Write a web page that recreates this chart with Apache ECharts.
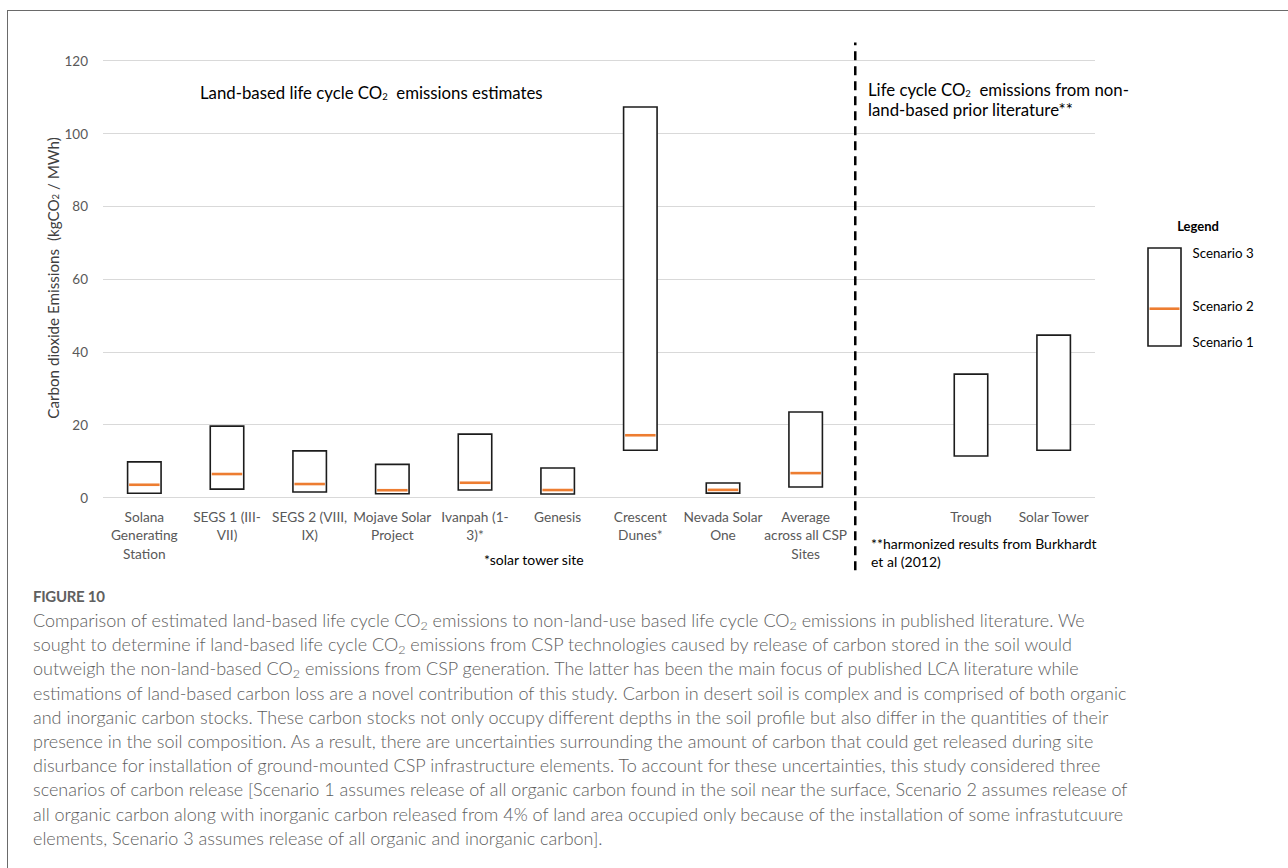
<!DOCTYPE html>
<html>
<head>
<meta charset="utf-8">
<title>Land-based vs non-land-based life cycle CO2 emissions of CSP sites</title>
<script src="https://cdn.jsdelivr.net/npm/echarts@6/dist/echarts.min.js"></script>
<style>
  html, body { margin: 0; padding: 0; background: #fff; }
  #page { position: relative; width: 1288px; height: 868px; overflow: hidden; background: #fff; }
  #frame { position: absolute; left: 7px; top: 10px; right: -10px; bottom: -10px;
           border-top: 1.5px solid #6a6a6a; border-left: 1.5px solid #6a6a6a; }
  #chart { position: absolute; left: 0; top: 0; width: 1288px; height: 868px; }
  #caption { position: absolute; left: 33px; top: 585px; width: 1250px;
             font-family: Lato, "Open Sans", sans-serif; color: #5e5e5e; }
  #caption .fig { font-size: 15px; font-weight: 700; letter-spacing: -0.3px; line-height: 23px; color: #606060; }
  #caption .body { font-size: 18px; font-weight: 300; line-height: 24.2px; white-space: nowrap; }
  #caption sub { font-size: 12.5px; vertical-align: -3px; line-height: 0; }
</style>
</head>
<body>
<div id="page">
  <div id="frame"></div>
  <div id="chart"></div>
  <div id="caption">
    <div class="fig">FIGURE 10</div>
    <div class="body">
      Comparison of estimated land-based life cycle CO<sub>2</sub> emissions to non-land-use based life cycle CO<sub>2</sub> emissions in published literature. We<br>
      sought to determine if land-based life cycle CO<sub>2</sub> emissions from CSP technologies caused by release of carbon stored in the soil would<br>
      outweigh the non-land-based CO<sub>2</sub> emissions from CSP generation. The latter has been the main focus of published LCA literature while<br>
      estimations of land-based carbon loss are a novel contribution of this study. Carbon in desert soil is complex and is comprised of both organic<br>
      and inorganic carbon stocks. These carbon stocks not only occupy different depths in the soil profile but also differ in the quantities of their<br>
      presence in the soil composition. As a result, there are uncertainties surrounding the amount of carbon that could get released during site<br>
      disurbance for installation of ground-mounted CSP infrastructure elements. To account for these uncertainties, this study considered three<br>
      scenarios of carbon release [Scenario 1 assumes release of all organic carbon found in the soil near the surface, Scenario 2 assumes release of<br>
      all organic carbon along with inorganic carbon released from 4% of land area occupied only because of the installation of some infrastutcuure<br>
      elements, Scenario 3 assumes release of all organic and inorganic carbon].
    </div>
  </div>
</div>
<script>
// Sites (land-based estimates), an empty spacer slot, then literature values
const categories = [
  'Solana\nGenerating\nStation',
  'SEGS 1 (III-\nVII)',
  'SEGS 2 (VIII,\nIX)',
  'Mojave Solar\nProject',
  'Ivanpah (1-\n3)*',
  'Genesis',
  'Crescent\nDunes*',
  'Nevada Solar\nOne',
  'Average\nacross all CSP\nSites',
  '',
  'Trough',
  'Solar Tower'
];

// kgCO2 / MWh for each release scenario ('-' = not applicable)
const scenario1 = [1.15, 2.3, 1.5, 1.05, 2.05, 0.95, 13.0, 1.2, 2.9, '-', 11.4, 13.0];
const scenario2 = [3.5, 6.45, 3.7, 2.0, 4.05, 2.05, 17.1, 2.1, 6.7, '-', '-', '-'];
const scenario3 = [9.8, 19.6, 12.8, 9.1, 17.4, 8.1, 107.3, 4.0, 23.5, '-', 33.9, 44.6];

// y axis ticks
const yTicks = { min: 0, max: 120, step: 20 };

// dashed separator between the two groups, in category-slot units, and its vertical span
const dividerAt = [8.6];
const dividerSpan = [-20, 125];

const FONT = 'Lato, "Open Sans", sans-serif';
const BOX_STROKE = '#1c1c1c';
const ORANGE = '#ED7D31';

const boxData = [];
categories.forEach((c, i) => {
  if (scenario3[i] !== '-') boxData.push([i, scenario1[i], scenario2[i], scenario3[i]]);
});

function renderBox(params, api) {
  const idx = api.value(0);
  const lo = api.coord([idx, api.value(1)]);
  const hi = api.coord([idx, api.value(3)]);
  const w = api.size([1, 0])[0] * 0.405;
  const children = [{
    type: 'rect',
    shape: { x: lo[0] - w / 2, y: hi[1], width: w, height: lo[1] - hi[1] },
    style: { fill: '#ffffff', stroke: BOX_STROKE, lineWidth: 1.6 }
  }];
  const mid = api.value(2);
  if (!isNaN(mid)) {
    const m = api.coord([idx, mid]);
    children.push({
      type: 'line',
      shape: { x1: lo[0] - w / 2 + 1.5, y1: m[1], x2: lo[0] + w / 2 - 1.5, y2: m[1] },
      style: { stroke: ORANGE, lineWidth: 2.6 }
    });
  }
  return { type: 'group', children };
}

function renderDivider(params, api) {
  const a = api.coord([api.value(0), api.value(1)]);
  const b = api.coord([api.value(0), api.value(2)]);
  return {
    type: 'line',
    shape: { x1: a[0], y1: a[1], x2: b[0], y2: b[1] },
    style: { stroke: '#000', lineWidth: 2.5, lineDash: [9, 6] }
  };
}

const sub = {
  a: { fontSize: 16.8, fontFamily: FONT, fill: '#000', lineHeight: 22, verticalAlign: 'bottom' },
  s: { fontSize: 9.5, fontFamily: FONT, fill: '#000', lineHeight: 12, verticalAlign: 'bottom' }
};

const chart = echarts.init(document.getElementById('chart'), null, { renderer: 'svg', width: 1288, height: 868 });

chart.setOption({
  animation: false,
  backgroundColor: 'transparent',
  textStyle: { fontFamily: FONT },
  grid: { left: 103, right: 193, top: 60.7, bottom: 370.5, containLabel: false },
  xAxis: [{
    type: 'category',
    data: categories,
    boundaryGap: true,
    axisLine: { show: false },
    axisTick: { show: false },
    axisLabel: { interval: 0, color: '#595959', fontSize: 13.7, lineHeight: 18.3, margin: 10, fontFamily: FONT }
  }, {
    type: 'value',
    min: -0.5,
    max: categories.length - 0.5,
    show: false
  }],
  yAxis: {
    type: 'value',
    min: yTicks.min,
    max: yTicks.max,
    interval: yTicks.step,
    axisLine: { show: false },
    axisTick: { show: false },
    axisLabel: { color: '#595959', fontSize: 13.5, margin: 15, fontFamily: FONT },
    splitLine: { lineStyle: { color: '#d9d9d9', width: 1 } }
  },
  series: [{
    type: 'custom',
    name: 'Scenarios',
    xAxisIndex: 0,
    renderItem: renderBox,
    data: boxData,
    encode: { x: 0, y: [1, 2, 3] },
    z: 3
  }, {
    type: 'custom',
    name: 'divider',
    xAxisIndex: 1,
    renderItem: renderDivider,
    data: dividerAt.map(v => [v, dividerSpan[0], dividerSpan[1]]),
    encode: { x: 0, y: [1, 2] },
    clip: false,
    silent: true,
    z: 4
  }],
  graphic: [
    // y axis title
    {
      type: 'text', x: 50, y: 278, rotation: Math.PI / 2,
      style: {
        text: '{t|Carbon dioxide Emissions  (kgCO}{u|2}{t| / MWh)}',
        align: 'center', verticalAlign: 'middle',
        rich: {
          t: { fontSize: 15.2, fontFamily: FONT, fill: '#404040', lineHeight: 20, verticalAlign: 'bottom' },
          u: { fontSize: 9.5, fontFamily: FONT, fill: '#404040', lineHeight: 11, verticalAlign: 'bottom' }
        }
      }
    },
    // group headings
    {
      type: 'text', x: 200, y: 90,
      style: { text: '{a|Land-based life cycle CO}{s|2}{a|  emissions estimates}', align: 'left', verticalAlign: 'middle', rich: sub }
    },
    {
      type: 'text', x: 868, y: 87,
      style: { text: '{a|Life cycle CO}{s|2}{a|  emissions from non-}', align: 'left', verticalAlign: 'middle', rich: sub }
    },
    {
      type: 'text', x: 868, y: 109.5,
      style: { text: 'land-based prior literature**', align: 'left', verticalAlign: 'middle', fontSize: 16.8, fontFamily: FONT, fill: '#000' }
    },
    // footnotes
    {
      type: 'text', x: 484, y: 559,
      style: { text: '*solar tower site', align: 'left', verticalAlign: 'middle', fontSize: 14, fontFamily: FONT, fill: '#000' }
    },
    {
      type: 'text', x: 871, y: 543.5,
      style: { text: '**harmonized results from Burkhardt', align: 'left', verticalAlign: 'middle', fontSize: 14, fontFamily: FONT, fill: '#000' }
    },
    {
      type: 'text', x: 871, y: 561.5,
      style: { text: 'et al (2012)', align: 'left', verticalAlign: 'middle', fontSize: 14, fontFamily: FONT, fill: '#000' }
    },
    // legend key
    {
      type: 'text', x: 1198, y: 226,
      style: { text: 'Legend', align: 'center', verticalAlign: 'middle', fontSize: 13, fontWeight: 'bold', fontFamily: FONT, fill: '#000' }
    },
    {
      type: 'rect', shape: { x: 1148, y: 248, width: 33, height: 98 },
      style: { fill: '#fff', stroke: BOX_STROKE, lineWidth: 1.6 }
    },
    {
      type: 'line', shape: { x1: 1149.5, y1: 308.7, x2: 1179.5, y2: 308.7 },
      style: { stroke: ORANGE, lineWidth: 2.6 }
    },
    {
      type: 'text', x: 1192.5, y: 252.5,
      style: { text: 'Scenario 3', align: 'left', verticalAlign: 'middle', fontSize: 13.3, fontFamily: FONT, fill: '#000' }
    },
    {
      type: 'text', x: 1192.5, y: 306,
      style: { text: 'Scenario 2', align: 'left', verticalAlign: 'middle', fontSize: 13.3, fontFamily: FONT, fill: '#000' }
    },
    {
      type: 'text', x: 1192.5, y: 341.5,
      style: { text: 'Scenario 1', align: 'left', verticalAlign: 'middle', fontSize: 13.3, fontFamily: FONT, fill: '#000' }
    }
  ]
});
</script>
</body>
</html>
